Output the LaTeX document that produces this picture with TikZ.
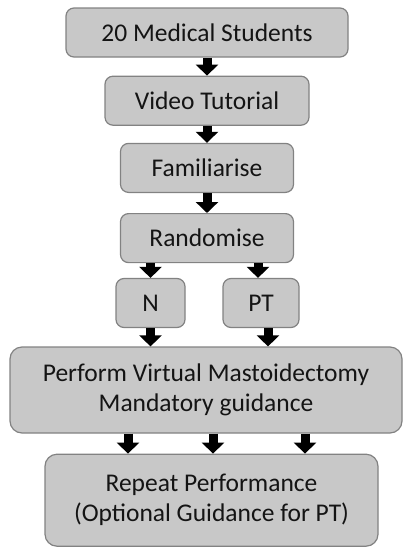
\documentclass[tikz,border=0pt]{standalone}
\usepackage{fontspec}
\setmainfont{Carlito}
\usetikzlibrary{positioning}
\usetikzlibrary{arrows.meta}
\definecolor{boxfill}{RGB}{200,200,200}
\definecolor{boxline}{RGB}{130,130,130}
\tikzset {
  % grey rounded box of the flow chart
  stage/.style = {
    draw = boxline,
    fill = boxfill,
    line width = 1.2pt,
    rounded corners = 8pt,
    font = \fontsize{25.5}{30}\selectfont,
    text = black!92,
    align = center,
    inner sep = 0pt,
    minimum height = 49pt
  },
  % short fat arrow between boxes
  flow/.style = {
    draw = black,
    line width = 9pt,
    -{Triangle[width = 22pt, length = 11pt]}
  },
  node distance = 18pt
}
\begin{document}
\begin{tikzpicture}
    \useasboundingbox (0,0) rectangle (403pt,-547pt);

    \node[stage, minimum width = 282pt] (students) at (207pt,-32.5pt) {20 Medical Students};
    \node[stage, minimum width = 204pt] (video) [below=18pt of students] {Video Tutorial};
    \node[stage, minimum width = 173pt] (familiar) [below=17pt of video] {Familiarise};
    \node[stage, minimum width = 173pt] (random) [below=20pt of familiar] {Randomise};
    \node[stage, minimum width = 69pt] (n) at (150.5pt,-303pt) {N};
    \node[stage, minimum width = 76pt] (pt) at (261pt,-303pt) {PT};
    \node[stage, minimum width = 392pt, minimum height = 86pt, rounded corners = 12pt] (perform)
      at (206pt,-390pt) {Perform Virtual Mastoidectomy\\Mandatory guidance};
    \node[stage, minimum width = 333pt, minimum height = 92pt, rounded corners = 12pt] (repeat)
      [below=20pt of perform, xshift=5.5pt] {Repeat Performance\\(Optional Guidance for PT)};

    \draw[flow] (students) -- (video);
    \draw[flow] (video) -- (familiar);
    \draw[flow] (familiar) -- (random);

    \draw[flow] (random.south -| n) -- (n);
    \draw[flow] ([xshift=-3pt]random.south -| pt) -- ([xshift=-3pt]pt.north);

    \draw[flow] (n) -- (n |- perform.north);
    \draw[flow] ([xshift=7pt]pt.south) -- ([xshift=7pt]pt.south |- perform.north);

    \foreach \dx in {-78,7,99}
      \draw[flow] ([xshift=\dx pt]perform.south) -- ([xshift=\dx pt]perform.south |- repeat.north);

\end{tikzpicture}
\end{document}
